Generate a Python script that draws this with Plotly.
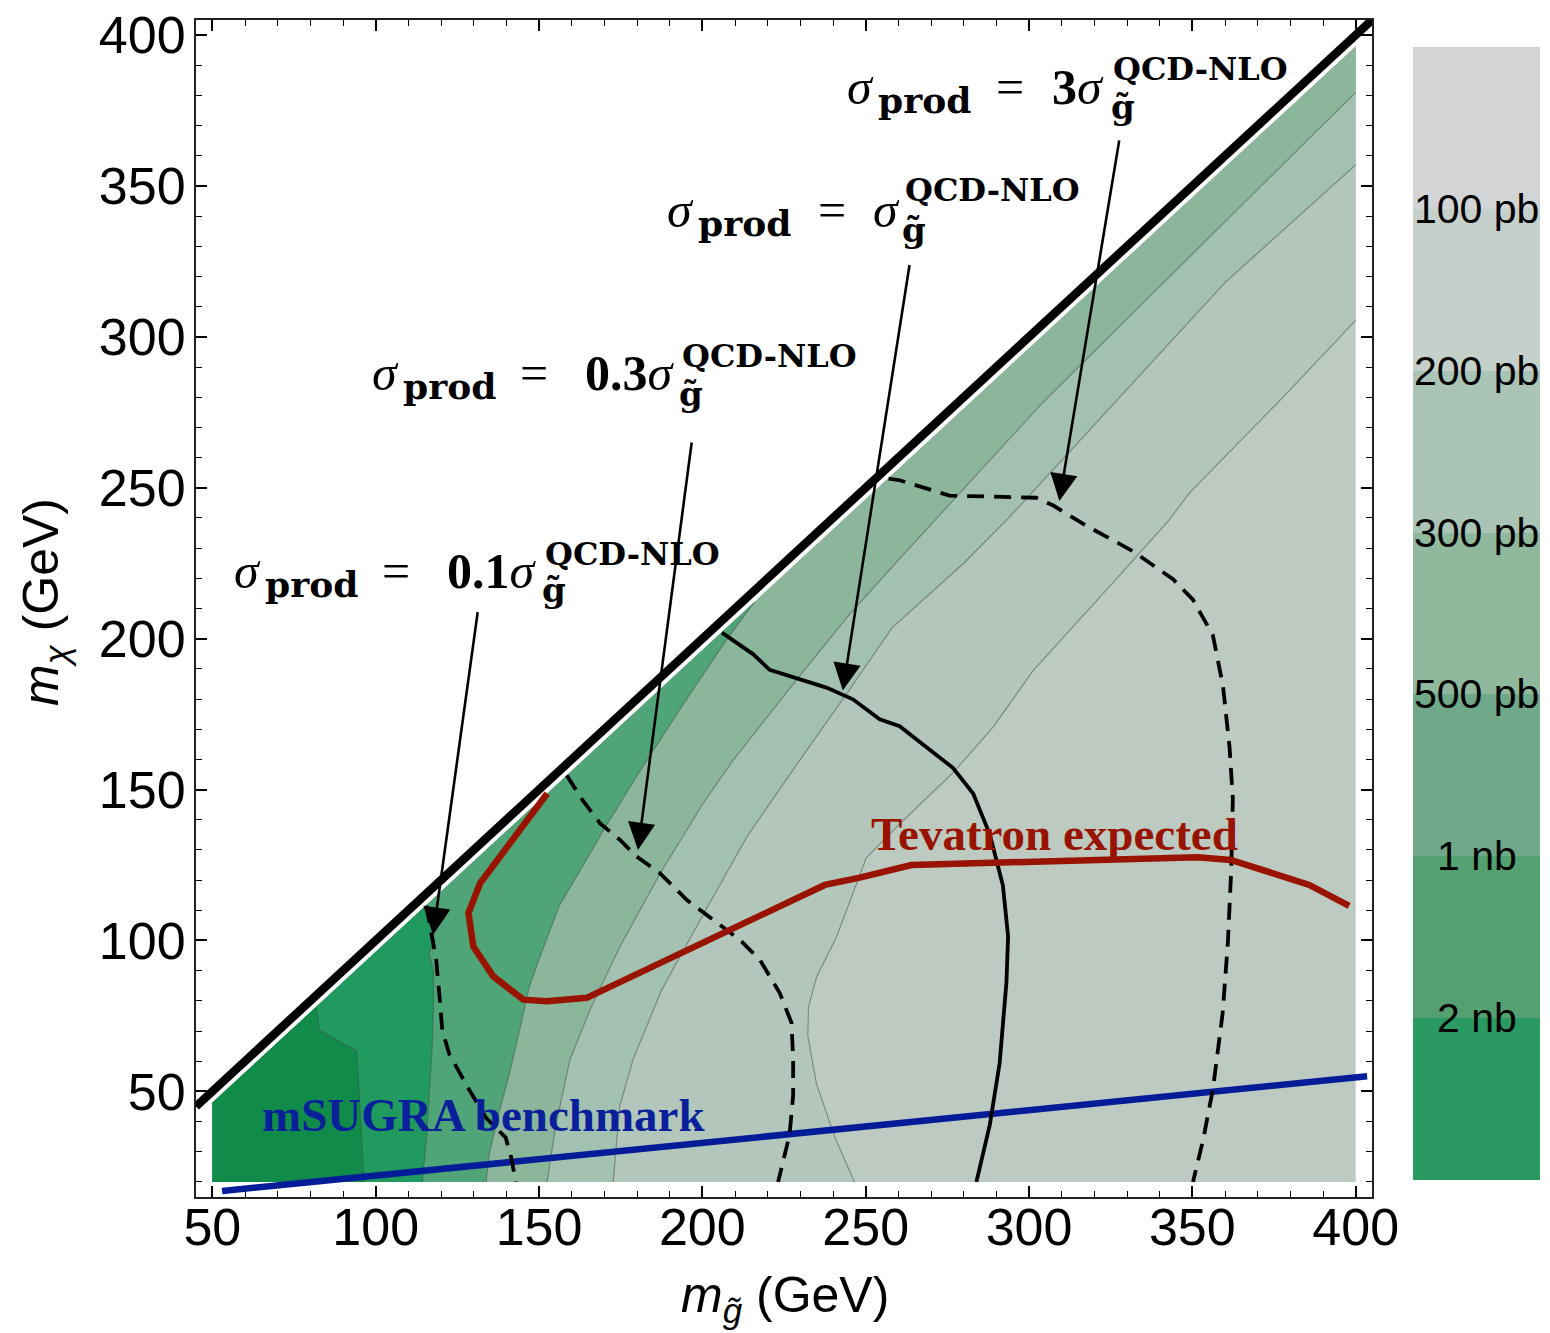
import plotly.graph_objects as go

# ---------------- data ----------------
# contour boundaries of the cross-section bands (m_gluino, m_chi) in GeV
B1_MG = [96.5, 95.5, 94.2, 88.0, 82.8, 81.8]
B1_MCHI = [20, 40, 63.5, 67.0, 70.3, 78.0]
B2_MG = [114.3, 115.7, 117.2, 117.7, 117.7, 116.3, 118.0, 116.5, 115.6]
B2_MCHI = [20, 36.4, 62.8, 78.0, 90.0, 95.6, 100.2, 106.0, 111.8]
B3_MG = [133.8, 134.8, 137.5, 140.9, 144.0, 147.0, 150.3, 156.3, 161.5, 170.0, 181.0, 194.0, 207.3, 216.0]
B3_MCHI = [20, 29.4, 42.0, 55.6, 70.0, 84.5, 94.7, 111.7, 121.2, 137.0, 156.3, 178.0, 199.5, 212.2]
B4_MG = [152.5, 155.0, 159.5, 166.0, 174.8, 187.0, 200.2, 209.4, 229.8, 245.0, 260.0, 271.0, 287.0, 304.0, 330.0, 360.0, 400.0]
B4_MCHI = [20, 38.0, 60.6, 78.0, 98.0, 122.0, 145.4, 159.7, 187.7, 208.0, 226.0, 239.0, 258.0, 278.0, 306.0, 338.0, 381.0]
B5_MG = [172.7, 174.7, 178.8, 187.5, 201.0, 214.0, 230.0, 245.0, 258.0, 273.7, 280.0, 293.8, 310.0, 326.7, 360.0, 400.0]
B5_MCHI = [20, 45.0, 60.6, 83.5, 110.0, 135.0, 160.0, 183.0, 203.5, 219.0, 225.0, 240.0, 259.0, 278.8, 318.0, 357.0]
B6_MG = [246.6, 240.5, 234.9, 232.3, 232.5, 235.0, 241.0, 250.2, 260.4, 276.7, 289.0, 301.2, 326.7, 342.8, 349.2, 376.7, 400.0]
B6_MCHI = [20, 35.0, 52.7, 68.4, 78.0, 88.0, 101.0, 127.4, 138.6, 155.5, 170.7, 189.3, 219.7, 239.2, 248.4, 278.8, 305.5]

# sigma_prod = k * sigma_QCD-NLO contours
D01_MG = [115.5, 116.5, 117.5, 118.5, 119.5, 120.4, 122.6, 128.7, 133.8, 139.8, 141.5, 142.9]
D01_MCHI = [111.5, 106.0, 100.0, 94.0, 82.0, 70.1, 62.2, 50.4, 41.2, 34.7, 28.0, 20.0]
D03_MG = [158.5, 163.0, 168.7, 174.8, 179.9, 187.0, 195.2, 203.3, 211.5, 217.6, 223.7, 227.3, 227.8, 227.8, 226.7, 223.2]
D03_MCHI = [154.7, 147.0, 138.8, 133.3, 127.8, 122.3, 113.5, 106.8, 100.2, 93.6, 82.6, 72.7, 60.6, 48.7, 35.6, 20.0]
D1_MG = [206.0, 215.5, 220.6, 229.8, 238.0, 246.1, 254.3, 260.4, 268.6, 276.7, 282.9, 288.0, 292.0, 293.6, 293.1, 291.0, 288.0, 283.9]
D1_MCHI = [202.0, 194.9, 189.7, 186.5, 183.8, 179.9, 173.3, 171.0, 164.0, 157.2, 148.7, 135.2, 118.3, 101.4, 86.2, 59.2, 38.9, 20.0]
D3_MG = [257.0, 260.4, 275.7, 302.2, 307.3, 317.6, 331.8, 344.1, 350.2, 356.3, 359.4, 361.4, 362.4, 361.9, 360.9, 359.3, 356.3, 353.3, 350.2]
D3_MCHI = [253.0, 252.5, 247.4, 246.7, 244.2, 237.4, 229.0, 219.7, 212.9, 201.1, 184.2, 163.9, 147.0, 123.4, 99.7, 76.1, 50.7, 33.9, 20.0]

# Tevatron expected
TEV_MG = [152.5, 132.0, 128.4, 129.9, 136.0, 145.2, 152.4, 164.6, 237.5, 248.2, 264.0, 351.6, 361.8, 385.8, 398.0]
TEV_MCHI = [148.7, 119.0, 109.1, 98.0, 88.1, 80.4, 79.9, 81.0, 118.4, 120.8, 125.0, 127.6, 126.7, 118.4, 111.5]

# mSUGRA benchmark line
SUGRA_MG = [53.0, 403.5]
SUGRA_MCHI = [17.0, 55.0]

# kinematic limit m_chi = m_gluino
KIN_MG = [45, 405]
KIN_MCHI = [45, 405]

# arrows: (tail mg, tail mchi, head mg, head mchi)
ARROW_TAIL_MG = [327.7, 263.5, 196.8, 131.3]
ARROW_TAIL_MCHI = [365.6, 324.3, 265.5, 209.3]
ARROW_HEAD_MG = [309.3, 243.0, 180.3, 117.6]
ARROW_HEAD_MCHI = [245.6, 182.8, 130.0, 101.9]

COEFS = ["3", "", "0.3", "0.1"]

CBAR_LABELS = ["2 nb", "1 nb", "500 pb", "300 pb", "200 pb", "100 pb"]

X_TICKS = [50, 100, 150, 200, 250, 300, 350, 400]
Y_TICKS = [50, 100, 150, 200, 250, 300, 350, 400]

# ---------------- styles ----------------
BAND_COLORS = ["#bdcac2", "#b2c6bb", "#a3c1b0", "#8cb69c", "#4fa577", "#209a5f", "#108b49"]
CBAR_COLORS = ["#2a9a62", "#55a070", "#6fa98a", "#8fb89c", "#a9c4b5", "#c6d0cb", "#d3d4d6"]
DIAG_OFF = 3.8
XL, XR, YB = 50, 400, 20

fig = go.Figure()

# full region
fig.add_trace(go.Scatter(x=[XL, XR, XR, XL], y=[YB, YB, XR - DIAG_OFF, XL - DIAG_OFF],
                         fill="toself", fillcolor=BAND_COLORS[0], mode="lines",
                         line=dict(width=0), hoverinfo="skip", showlegend=False))

bounds = [(B6_MG, B6_MCHI), (B5_MG, B5_MCHI), (B4_MG, B4_MCHI),
          (B3_MG, B3_MCHI), (B2_MG, B2_MCHI), (B1_MG, B1_MCHI)]
for i, (bx, by) in enumerate(bounds):
    xs = [XL] + list(bx)
    ys = [YB] + list(by)
    if bx[-1] >= XR:
        xs += [XR]
        ys += [XR - DIAG_OFF]
    xs += [XL]
    ys += [XL - DIAG_OFF]
    fig.add_trace(go.Scatter(x=xs, y=ys, fill="toself", fillcolor=BAND_COLORS[i + 1],
                             mode="lines", line=dict(width=0), hoverinfo="skip",
                             showlegend=False))

for bx, by in bounds:
    fig.add_trace(go.Scatter(x=bx, y=by, mode="lines",
                             line=dict(color="rgba(70,80,75,0.55)", width=1.1),
                             hoverinfo="skip", showlegend=False))

# mSUGRA line
fig.add_trace(go.Scatter(x=SUGRA_MG, y=SUGRA_MCHI, mode="lines",
                         line=dict(color="#041c98", width=6.5), showlegend=False))

# sigma contours
for mx, my, dash in [(D01_MG, D01_MCHI, "dash"), (D03_MG, D03_MCHI, "dash"),
                     (D1_MG, D1_MCHI, "solid"), (D3_MG, D3_MCHI, "dash")]:
    fig.add_trace(go.Scatter(x=mx, y=my, mode="lines",
                             line=dict(color="black", width=3.8,
                                       dash=("17px,10px" if dash == "dash" else "solid")),
                             showlegend=False))

# Tevatron
fig.add_trace(go.Scatter(x=TEV_MG, y=TEV_MCHI, mode="lines",
                         line=dict(color="#981300", width=6.5), showlegend=False))

# kinematic line
fig.add_trace(go.Scatter(x=KIN_MG, y=KIN_MCHI, mode="lines",
                         line=dict(color="black", width=8.5), showlegend=False))

# colorbar as stacked bars
fig.add_trace(go.Bar(x=[0] * 7, y=[1] * 7, base=list(range(7)), width=1,
                     marker=dict(color=CBAR_COLORS, line=dict(width=0)),
                     xaxis="x2", yaxis="y2", hoverinfo="skip", showlegend=False))

W, H = 1550, 1333
ML, MR, MT, MB = 196, 10, 20, 136
PW, PH = W - ML - MR, H - MT - MB


def xp(px):
    return (px - ML) / PW


def yp(py):
    return (H - MB - py) / PH


ann = []
SERIF = "Liberation Serif"
SERIF2 = "DejaVu Serif"
# label pieces: positions in pixels
LAB_POS = [
    dict(sl=845, base=104, eq=1010, right=1106, ql=1111, qb=80, gl=1109, gb=119),
    dict(sl=665, base=227, eq=832, right=902, ql=903, qb=201, gl=900, gb=242),
    dict(sl=370, base=390, eq=534, right=677, ql=680, qb=367, gl=677, gb=406),
    dict(sl=232, base=588, eq=396, right=539, ql=543, qb=565, gl=540, gb=602),
]
FM, FP, FQ, FG = 50, 36, 32, 34


def add_piece(text, px, base, size, anchor, family):
    ann.append(dict(text=text, x=xp(px), y=yp(base - 0.34 * size), xref="paper", yref="paper",
                    xanchor=anchor, yanchor="middle", showarrow=False,
                    font=dict(family=family, size=size, color="black")))


for coef, p in zip(COEFS, LAB_POS):
    add_piece("<i>σ</i>", p["sl"], p["base"], FM, "left", SERIF)
    add_piece("<b>prod</b>", p["sl"] + 31, p["base"] + 8, FP, "left", SERIF2)
    add_piece("=", p["eq"], p["base"], FM, "center", SERIF)
    add_piece(("<b>%s</b>" % coef if coef else "") + "<i>σ</i>", p["right"], p["base"], FM, "right", SERIF)
    add_piece("<b>QCD-NLO</b>", p["ql"], p["qb"], FQ, "left", SERIF2)
    add_piece("<b>g̃</b>", p["gl"], p["gb"], FG, "left", SERIF2)

# arrows
for tx, ty, hx, hy in zip(ARROW_TAIL_MG, ARROW_TAIL_MCHI, ARROW_HEAD_MG, ARROW_HEAD_MCHI):
    ann.append(dict(text="", x=hx, y=hy, ax=tx, ay=ty, xref="x", yref="y", axref="x", ayref="y",
                    showarrow=True, arrowhead=2, arrowsize=2.1, arrowwidth=2.6, arrowcolor="black",
                    standoff=0, startstandoff=0))

# in-plot text labels
ann.append(dict(text="<b>Tevatron expected</b>", x=xp(1054), y=yp(850 - 0.34 * 47), xref="paper",
                yref="paper", xanchor="center", yanchor="middle", showarrow=False,
                font=dict(family=SERIF, size=47, color="#981300")))
ann.append(dict(text="<b>mSUGRA benchmark</b>", x=xp(483), y=yp(1131 - 0.34 * 47), xref="paper",
                yref="paper", xanchor="center", yanchor="middle", showarrow=False,
                font=dict(family=SERIF, size=47, color="#0a1f9a")))

# axis titles
SANS = "Liberation Sans"
ann.append(dict(text="<i>m</i><sub><i>g̃</i></sub> (GeV)", x=xp(785), y=yp(1298), xref="paper",
                yref="paper", xanchor="center", yanchor="middle", showarrow=False,
                font=dict(family=SANS, size=50, color="black")))
ann.append(dict(text="<i>m</i><sub><i>χ</i></sub> (GeV)", x=xp(44), y=yp(602), xref="paper",
                yref="paper", xanchor="center", yanchor="middle", showarrow=False, textangle=-90,
                font=dict(family=SANS, size=50, color="black")))

# colorbar labels
for k, lab in enumerate(CBAR_LABELS):
    ann.append(dict(text=lab, x=0, y=k + 1, xref="x2", yref="y2", xanchor="center",
                    yanchor="middle", showarrow=False,
                    font=dict(family=SANS, size=41, color="black")))

axis_common = dict(ticks="inside", ticklen=11, tickwidth=1.5, tickcolor="black",
                   mirror="allticks", showline=True, linewidth=2, linecolor="#222",
                   showgrid=False, zeroline=False, automargin=False,
                   tickfont=dict(family=SANS, size=52, color="black"),
                   minor=dict(ticks="inside", ticklen=6, dtick=10, tick0=0,
                              tickcolor="black", tickwidth=1.2, showgrid=False))

fig.update_layout(
    width=W, height=H, margin=dict(l=ML, r=MR, t=MT, b=MB, autoexpand=False), autosize=False,
    paper_bgcolor="white", plot_bgcolor="white", showlegend=False,
    xaxis=dict(domain=[0, (1372 - ML) / PW], range=[45, 405], tickvals=X_TICKS,
               ticklabelstandoff=-16, **axis_common),
    yaxis=dict(range=[15, 405], tickvals=Y_TICKS, ticklabelstandoff=-2, **axis_common),
    xaxis2=dict(domain=[xp(1413), xp(1540)], range=[-0.5, 0.5], visible=False, anchor="y2"),
    yaxis2=dict(domain=[yp(1180), yp(47)], range=[0, 7], visible=False, anchor="x2"),
    annotations=ann,
    bargap=0,
)

fig.write_html("out.html", config={"responsive": False, "displayModeBar": False},
               post_script="document.body.style.margin='0px';document.body.style.overflow='hidden';")
